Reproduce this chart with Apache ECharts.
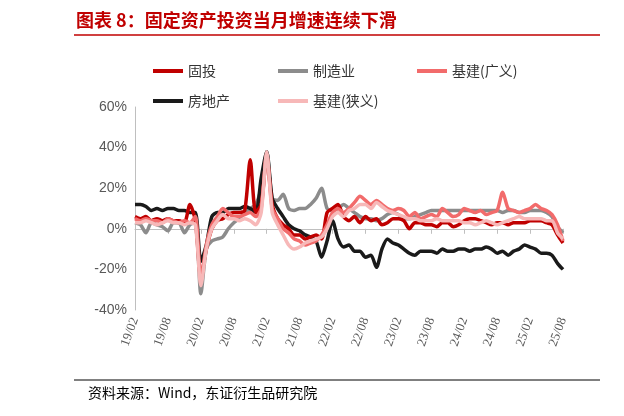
<!DOCTYPE html>
<html><head><meta charset="utf-8">
<script src="https://cdn.jsdelivr.net/npm/echarts@6/dist/echarts.min.js"></script>
<style>html,body{margin:0;padding:0;background:#fff}#c{width:624px;height:416px}</style>
</head><body><div id="c"></div>
<script>
const categories=[];
for(let y=19;y<=25;y++){for(let m=(y===19?2:1);m<=12;m++){if(y===25&&m>8)break;categories.push(y+'/'+(m<10?'0'+m:m));}}
const guTou=[6,5,6,4,5,4,5,4,4,3,12,4,-24,-10,0,4,5,7,8,8,9,34,8,12,36,12,5,2,0,-3,-3,-5,-4,-3,-5,8,10,12,6,4,6,3,6,4,5,2,3,5,5,4,0,3,3,2,2,1,3,3,1,2,4,5,5,4,3,2,3,3,2,3,3,3,4,4,4,3,2,-3,-7];
const zhiZao=[3,2,-2,3,2,1,-1,3,3,-2,2,3,-32,-10,-6,-5,-4,0,3,5,8,10,12,20,38,15,14,17,10,9,10,10,12,15,20,10,9,10,12,10,8,6,5,5,4,5,7,8,7,5,5,6,7,8,9,9,9,9,9,9,9,9,9,9,9,9,9,8,9,9,8,8,9,9,9,8,6,1,-2];
const jiJianGuang=[5,4,5,4,4,3,5,4,3,4,3,6,-25,-8,2,6,10,8,6,6,7,8,6,10,37,10,5,0,-2,-5,-6,-8,-7,-6,-3,2,8,10,8,10,13,16,14,12,14,12,10,9,10,9,6,8,5,6,7,6,10,8,6,7,10,9,8,9,7,8,9,18,10,9,8,9,10,12,10,9,7,2,-6];
const fangDiChan=[12,12,11,9,10,9,10,10,9,9,8,8,-16,-8,6,8,8,10,10,10,11,10,8,25,38,15,10,6,2,0,-1,-3,-4,-6,-14,-6,4,-5,-9,-8,-11,-11,-14,-13,-19,-10,-5,-7,-8,-10,-12,-13,-11,-11,-11,-12,-10,-11,-11,-10,-10,-11,-10,-10,-9,-10,-12,-11,-13,-11,-10,-8,-9,-10,-12,-12,-13,-17,-20];
const jiJianXia=[3,3,4,3,2,3,4,3,3,2,3,2,-28,-10,0,4,7,5,5,4,5,4,2,8,38,8,2,-3,-8,-10,-9,-7,-6,-5,-4,0,6,8,6,9,10,12,12,10,13,11,9,8,7,6,5,5,4,4,4,5,4,4,4,4,3,3,2,3,4,3,2,3,4,5,6,5,5,5,5,4,4,-2,-5];
const names=['固投','制造业','基建(广义)','房地产','基建(狭义)'];
const colors=['#c00000','#8c8c8c','#f26b6b','#1a1a1a','#f7b8b8'];
const dataArr=[guTou,zhiZao,jiJianGuang,fangDiChan,jiJianXia];
const zOrder=[3,1,4,2,5];
const chart=echarts.init(document.getElementById('c'));
const font='"Noto Sans CJK SC", sans-serif';
const legendCommon={itemWidth:30,itemHeight:4,icon:'rect',textStyle:{fontSize:14,color:'#333',fontFamily:font}};
chart.setOption({
 animation:false,
 graphic:[
  {type:'text',left:76,top:11,style:{text:'图表 8：固定资产投资当月增速连续下滑',fill:'#c00000',font:'bold 18px "Noto Sans CJK SC"'}},
  {type:'line',shape:{x1:74,y1:35,x2:600,y2:35},style:{stroke:'#c00000',lineWidth:1.5}},
  {type:'line',shape:{x1:74,y1:380,x2:600,y2:380},style:{stroke:'#000',lineWidth:1}},
  {type:'text',left:88,top:386,style:{text:'资料来源：Wind，东证衍生品研究院',fill:'#000',font:'14px "Noto Sans CJK SC"'}}
 ],
 legend:[
  Object.assign({data:names.slice(0,3),left:148,top:59,itemGap:62},legendCommon),
  Object.assign({data:names.slice(3),left:148,top:89,itemGap:48},legendCommon)
 ],
 grid:{left:135,right:61,top:107,bottom:106},
 xAxis:{type:'category',data:categories,boundaryGap:false,
  axisLine:{lineStyle:{color:'#bfbfbf'}},axisTick:{interval:5,lineStyle:{color:'#bfbfbf'}},
  axisLabel:{interval:5,rotate:70,color:'#595959',fontSize:13,fontFamily:'"Liberation Serif", serif'}},
 yAxis:{type:'value',min:-40,max:60,interval:20,
  axisLine:{show:true,lineStyle:{color:'#bfbfbf'}},splitLine:{show:false},
  axisLabel:{formatter:'{value}%',color:'#595959',fontSize:14,fontFamily:'"Liberation Sans", sans-serif'}},
 series:names.map((n,i)=>({name:n,type:'line',data:dataArr[i],symbol:'none',z:zOrder[i],smooth:0.25,
   lineStyle:{width:3.5,color:colors[i]},itemStyle:{color:colors[i]}}))
});
</script></body></html>
